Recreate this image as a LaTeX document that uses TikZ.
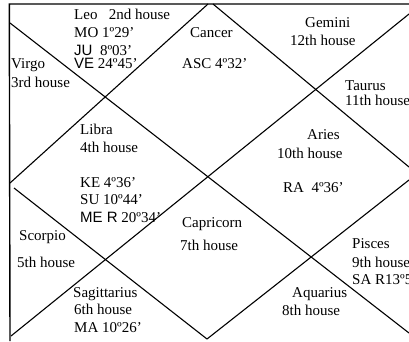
\documentclass[tikz,border=0pt]{standalone}
\usepackage{fontspec}
\setmainfont{Liberation Serif}
\newfontfamily\sansf{Liberation Sans}
\begin{document}
\begin{tikzpicture}[x=1pt,y=-1pt,
  lbl/.style={anchor=base west,inner sep=0pt,font=\fontsize{15}{18}\selectfont},
  edge/.style={line width=1.1pt,black},
  frame/.style={line width=1.4pt,black}]
\useasboundingbox (0,0) rectangle (409,341);
% frame
\coordinate (TL) at (9.3,4);
\coordinate (TR) at (409,4);
\coordinate (BL) at (10,341);
\draw[frame] (TR) -- (TL) -- (BL);
% main diagonals
\coordinate (D1s) at (10,23);
\coordinate (D1e) at (409,333);
\coordinate (D2s) at (409,14);
\coordinate (D2e) at (11,336);
\draw[edge] (D1s) -- (D1e);
\draw[edge] (D2s) -- (D2e);
% diamond
\coordinate (T1) at (208,4);
\coordinate (T2) at (213,4);
\coordinate (L1) at (10,183);
\coordinate (L2) at (14,188);
\coordinate (R1) at (409,167);
\coordinate (R2) at (409,180);
\coordinate (B) at (207,339);
\draw[edge] (T1) -- (L1);
\draw[edge] (T2) -- (R1);
\draw[edge] (L2) -- (B);
\draw[edge] (R2) -- (B);
% texts
\node[lbl] (leo) at (74,19) {Leo\ \ \ 2nd house};
\node[lbl] (mo) at (74,37) {MO 1º29'};
\node[lbl] (ju) at (74,55) {{\sansf JU}\ \ 8º03'};
\node[lbl] (ve) at (74,68) {{\sansf VE} 24º45'};
\node[lbl] (virgo) at (11,68) {Virgo};
\node[lbl] (h3) at (11,87) {3rd house};
\node[lbl] (cancer) at (190,37) {Cancer};
\node[lbl] (asc) at (182,68) {ASC 4º32'};
\node[lbl] (gemini) at (305,27) {Gemini};
\node[lbl] (h12) at (290,45) {12th house};
\node[lbl] (taurus) at (345,90) {Taurus};
\node[lbl] (h11) at (345,105) {11th house};
\node[lbl] (libra) at (80,134) {Libra};
\node[lbl] (h4) at (80,152) {4th house};
\node[lbl] (ke) at (80,187) {KE 4º36'};
\node[lbl] (su) at (80,204) {SU 10º44'};
\node[lbl] (me) at (80,222) {{\sansf ME R} 20º34'};
\node[lbl] (capri) at (182,227) {Capricorn};
\node[lbl] (h7) at (180,250) {7th house};
\node[lbl] (aries) at (307,139) {Aries};
\node[lbl] (h10) at (277,158) {10th house};
\node[lbl] (ra) at (283,192) {RA\ \ 4º36'};
\node[lbl] (scorpio) at (19,240) {Scorpio};
\node[lbl] (h5) at (17,267) {5th house};
\node[lbl] (sagi) at (73,297) {Sagittarius};
\node[lbl] (h6) at (74,314) {6th house};
\node[lbl] (ma) at (74,332) {MA 10º26'};
\node[lbl] (pisces) at (352,248) {Pisces};
\node[lbl] (h9) at (352,267) {9th house};
\node[lbl] (sa) at (352,284) {SA R13º5};
\node[lbl] (aqua) at (292,297) {Aquarius};
\node[lbl] (h8) at (282,315) {8th house};
\end{tikzpicture}
\end{document}
